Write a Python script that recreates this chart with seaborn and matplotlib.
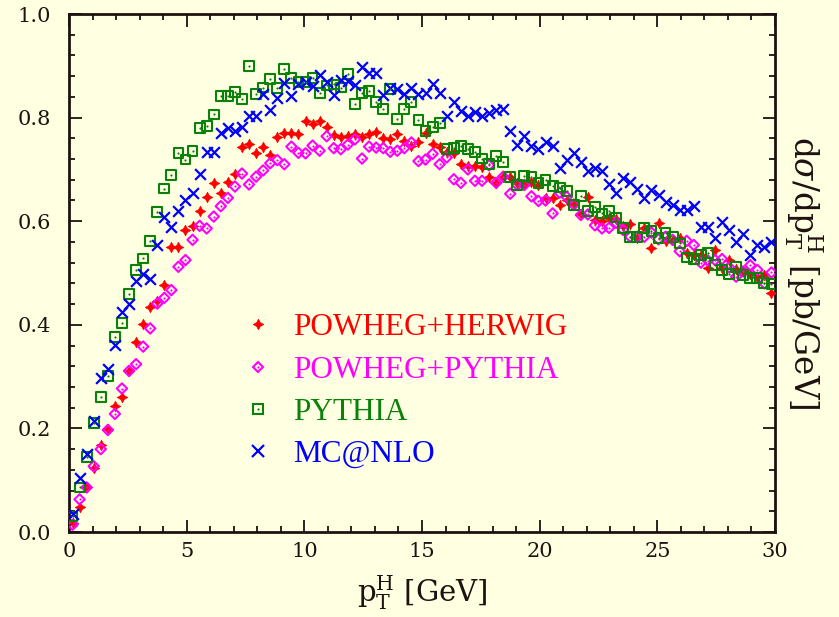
import numpy as np
import pandas as pd
import matplotlib
matplotlib.use("Agg")
import matplotlib.pyplot as plt
import seaborn as sns
from matplotlib.lines import Line2D
from matplotlib.ticker import MultipleLocator

# ---------------- data ----------------
bin_width = 0.3
pt_centers = np.round(np.arange(0.15, 30.0, bin_width), 2)  # bin centres of the histogram

powheg_herwig = [
    0.017, 0.048, 0.087, 0.123, 0.168, 0.198, 0.244, 0.261, 0.311, 0.366, 0.402, 0.435, 0.445, 0.477, 0.551, 0.551, 0.583,
    0.591, 0.619, 0.646, 0.673, 0.654, 0.675, 0.691, 0.744, 0.749, 0.731, 0.744, 0.727, 0.762, 0.771, 0.770, 0.768,
    0.794, 0.787, 0.794, 0.781, 0.766, 0.762, 0.765, 0.768, 0.762, 0.768, 0.772, 0.761, 0.758, 0.768, 0.755, 0.745, 0.753,
    0.771, 0.749, 0.744, 0.734, 0.732, 0.710, 0.707, 0.707, 0.704, 0.685, 0.673, 0.685, 0.686, 0.673, 0.670, 0.676,
    0.670, 0.644, 0.644, 0.631, 0.640, 0.633, 0.613, 0.646, 0.602, 0.600, 0.606, 0.604, 0.590, 0.594, 0.567, 0.587,
    0.548, 0.596, 0.561, 0.564, 0.567, 0.538, 0.535, 0.535, 0.510, 0.544, 0.509, 0.525, 0.507, 0.503, 0.498, 0.493, 0.497, 0.461,
]
powheg_pythia = [
    0.014, 0.063, 0.086, 0.127, 0.160, 0.197, 0.228, 0.277, 0.311, 0.324, 0.358, 0.393, 0.441, 0.452, 0.467, 0.512, 0.525,
    0.564, 0.591, 0.586, 0.609, 0.629, 0.645, 0.667, 0.692, 0.671, 0.686, 0.698, 0.712, 0.718, 0.710, 0.744, 0.732,
    0.731, 0.746, 0.736, 0.764, 0.741, 0.739, 0.748, 0.758, 0.721, 0.744, 0.742, 0.741, 0.734, 0.736, 0.741, 0.752, 0.716,
    0.719, 0.730, 0.710, 0.723, 0.681, 0.674, 0.700, 0.678, 0.678, 0.708, 0.674, 0.686, 0.653, 0.670, 0.670, 0.648,
    0.639, 0.640, 0.615, 0.655, 0.647, 0.632, 0.612, 0.613, 0.592, 0.586, 0.587, 0.597, 0.583, 0.570, 0.570, 0.570,
    0.578, 0.565, 0.570, 0.564, 0.542, 0.562, 0.554, 0.520, 0.524, 0.525, 0.527, 0.511, 0.493, 0.503, 0.515, 0.506, 0.480, 0.501,
]
pythia = [
    0.030, 0.086, 0.144, 0.211, 0.261, 0.301, 0.377, 0.403, 0.459, 0.506, 0.528, 0.562, 0.617, 0.663, 0.689, 0.731, 0.719,
    0.735, 0.780, 0.784, 0.806, 0.842, 0.842, 0.849, 0.836, 0.900, 0.845, 0.858, 0.874, 0.857, 0.894, 0.876, 0.868,
    0.869, 0.876, 0.847, 0.862, 0.864, 0.858, 0.884, 0.826, 0.847, 0.851, 0.830, 0.817, 0.855, 0.797, 0.817, 0.830, 0.795,
    0.774, 0.782, 0.789, 0.739, 0.741, 0.745, 0.739, 0.734, 0.721, 0.710, 0.726, 0.715, 0.685, 0.670, 0.687, 0.686,
    0.674, 0.680, 0.668, 0.665, 0.658, 0.631, 0.649, 0.620, 0.628, 0.615, 0.620, 0.607, 0.587, 0.570, 0.570, 0.587,
    0.581, 0.567, 0.578, 0.570, 0.557, 0.530, 0.527, 0.535, 0.538, 0.515, 0.506, 0.498, 0.512, 0.496, 0.490, 0.490, 0.481, 0.479,
]
mcatnlo = [
    0.035, 0.104, 0.150, 0.214, 0.297, 0.315, 0.361, 0.424, 0.440, 0.485, 0.499, 0.488, 0.555, 0.609, 0.589, 0.620, 0.641,
    0.655, 0.692, 0.733, 0.734, 0.771, 0.779, 0.774, 0.782, 0.804, 0.804, 0.845, 0.815, 0.838, 0.866, 0.842, 0.865,
    0.869, 0.861, 0.882, 0.868, 0.844, 0.873, 0.870, 0.863, 0.897, 0.887, 0.886, 0.844, 0.858, 0.855, 0.846, 0.857, 0.845,
    0.847, 0.865, 0.848, 0.803, 0.830, 0.813, 0.803, 0.810, 0.803, 0.808, 0.815, 0.817, 0.775, 0.747, 0.764, 0.745,
    0.739, 0.752, 0.745, 0.702, 0.718, 0.731, 0.714, 0.696, 0.702, 0.697, 0.672, 0.655, 0.684, 0.676, 0.662, 0.645,
    0.660, 0.650, 0.638, 0.631, 0.622, 0.622, 0.629, 0.589, 0.589, 0.567, 0.599, 0.583, 0.560, 0.575, 0.535, 0.554, 0.550, 0.560,
]

series_names = ["POWHEG+HERWIG", "POWHEG+PYTHIA", "PYTHIA", "MC@NLO"]
series_values = [powheg_herwig, powheg_pythia, pythia, mcatnlo]
x_ticks = [0, 5, 10, 15, 20, 25, 30]
y_ticks = [0.0, 0.2, 0.4, 0.6, 0.8, 1.0]

# ---------------- style ----------------
BG = "#FFFFE1"
INK = "#1e1210"
colors = {"POWHEG+HERWIG": "#FF0000", "POWHEG+PYTHIA": "#FF00FF",
          "PYTHIA": "#0A820A", "MC@NLO": "#0000FF"}
star4 = (4, 1, 0)
markers = {"POWHEG+HERWIG": star4, "POWHEG+PYTHIA": "D", "PYTHIA": "s", "MC@NLO": "x"}
sizes = {"POWHEG+HERWIG": 60, "POWHEG+PYTHIA": 28, "PYTHIA": 50, "MC@NLO": 60}

sns.set_style("ticks")
plt.rcParams["font.family"] = ["DejaVu Serif"]
plt.rcParams["mathtext.fontset"] = "dejavuserif"

frames = [pd.DataFrame({"pt": pt_centers, "val": v, "gen": n})
          for n, v in zip(series_names, series_values)]
df = pd.concat(frames, ignore_index=True)

fig = plt.figure(figsize=(8.39, 6.17), dpi=100, facecolor=BG)
ax = fig.add_axes([69 / 839, 1 - 532 / 617, (775 - 69) / 839, (532 - 14) / 617])
ax.set_facecolor(BG)

for name in series_names:
    sub = df[df["gen"] == name]
    c = colors[name]
    if name == "MC@NLO":
        sns.scatterplot(data=sub, x="pt", y="val", marker="x", s=sizes[name],
                        color=c, linewidth=1.6, ax=ax, zorder=3, legend=False)
    elif name == "POWHEG+HERWIG":
        sns.scatterplot(data=sub, x="pt", y="val", marker=star4, s=sizes[name],
                        color=c, edgecolor=c, linewidth=0.4, ax=ax, zorder=3, legend=False)
    else:
        sns.scatterplot(data=sub, x="pt", y="val", marker=markers[name], s=sizes[name],
                        facecolor="none", edgecolor=c, linewidth=1.5, ax=ax, zorder=3, legend=False)
        sns.scatterplot(data=sub, x="pt", y="val", marker="o", s=2.5,
                        color=c, edgecolor=c, linewidth=0, ax=ax, zorder=4, legend=False)

ax.set_xlim(0, 30)
ax.set_ylim(0, 1.0)
ax.set_xticks(x_ticks)
ax.set_yticks(y_ticks)
ax.set_xticklabels([str(t) for t in x_ticks])
ax.set_yticklabels([f"{t:.1f}" for t in y_ticks])
ax.xaxis.set_minor_locator(MultipleLocator(1))
ax.yaxis.set_minor_locator(MultipleLocator(0.04))
ax.tick_params(which="both", direction="in", top=True, right=True, colors=INK,
               labelsize=15, width=1.3)
ax.tick_params(which="major", length=9)
ax.tick_params(axis="x", which="major", pad=7)
ax.tick_params(axis="y", which="major", pad=13)
ax.tick_params(which="minor", length=4.5)
for sp in ax.spines.values():
    sp.set_linewidth(2.0)
    sp.set_color(INK)

ax.set_xlabel(r"$\mathrm{p}_\mathrm{T}^\mathrm{H}$ [GeV]", fontsize=21, color=INK, labelpad=9)
ax.yaxis.set_label_position("right")
ax.set_ylabel(r"d$\sigma$/d$\mathrm{p}_\mathrm{T}^\mathrm{H}$ [pb/GeV]", fontsize=23.5,
              color=INK, rotation=270, labelpad=36)

# legend
handles = []
for name in series_names:
    c = colors[name]
    if name == "MC@NLO":
        h = Line2D([], [], ls="none", marker="x", ms=9, mew=1.6, color=c)
    elif name == "POWHEG+HERWIG":
        h = Line2D([], [], ls="none", marker=star4, ms=np.sqrt(sizes[name]), mew=0.4, color=c)
    else:
        h_out = Line2D([], [], ls="none", marker=markers[name], ms=np.sqrt(sizes[name]),
                       mfc="none", mec=c, mew=1.5)
        h_dot = Line2D([], [], ls="none", marker="o", ms=1.6, color=c, mew=0)
        h = (h_out, h_dot)
    handles.append(h)

leg = ax.legend(handles, series_names, loc="center left", bbox_to_anchor=(0.2456, 0.272),
                frameon=False, handlelength=1.0, handletextpad=0.62, borderpad=0,
                borderaxespad=0, labelspacing=0.42,
                prop={"family": "Liberation Serif", "size": 22.5},
                labelcolor=[colors[n] for n in series_names])

fig.savefig("out.png", dpi=100, facecolor=BG)
